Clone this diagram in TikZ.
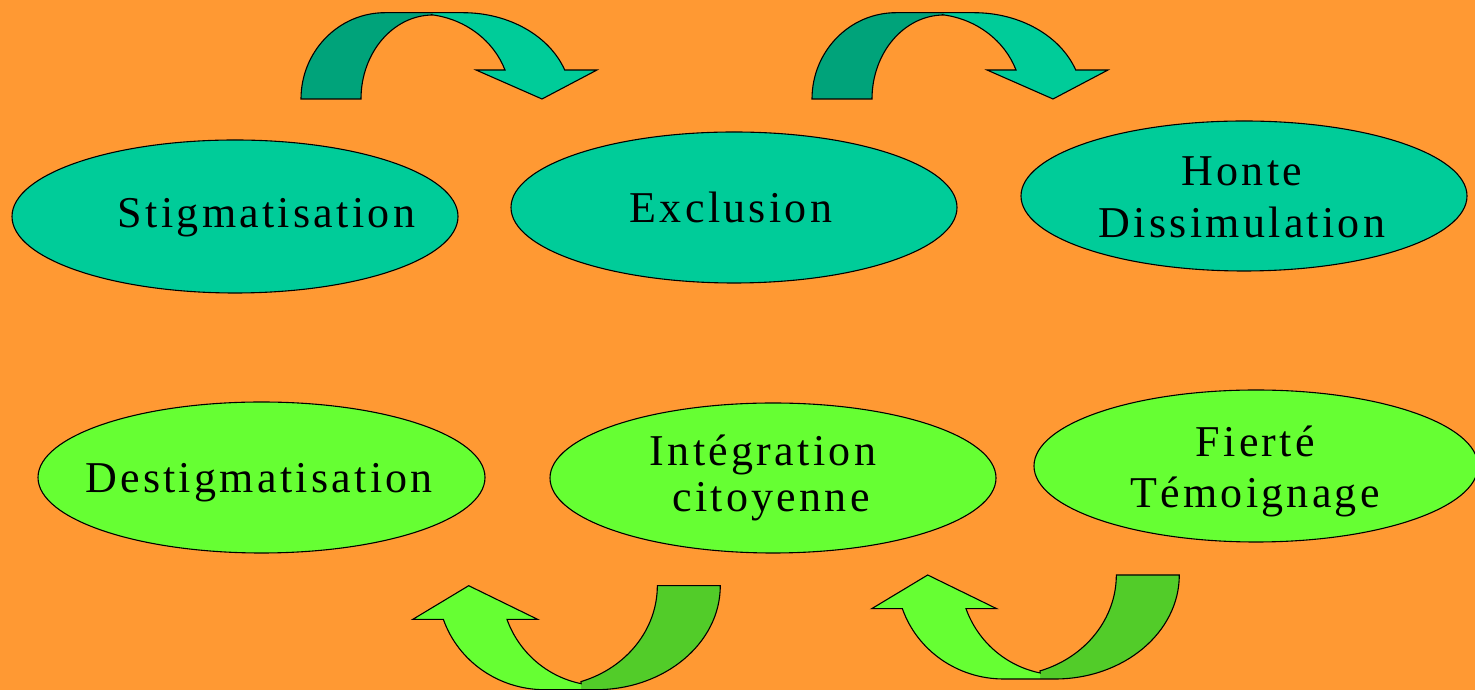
\documentclass[tikz,border=0pt]{standalone}
\usepackage{fontspec}
\setmainfont{Liberation Serif}[LetterSpace=7.5]
\usetikzlibrary{shapes.geometric}
\definecolor{bgor}{HTML}{FF9933}
\definecolor{teal1}{HTML}{00CC99}
\definecolor{teal2}{HTML}{00A37A}
\definecolor{green1}{HTML}{66FF33}
\definecolor{green2}{HTML}{52CC29}
\begin{document}
\begin{tikzpicture}[x=1pt,y=1pt,
  ell/.style={ellipse, draw=black, line width=1.1pt, inner sep=0pt},
  topell/.style={ell, fill=teal1},
  botell/.style={ell, fill=green1},
  txt/.style={font=\fontsize{44}{51}\selectfont, inner sep=0pt, anchor=base, text=black},
  band/.style={draw=black, line width=1.1pt, line join=miter}]
\useasboundingbox (0,0) rectangle (1475,690);
\fill[bgor] (0,0) rectangle (1475,690);

% top ellipses
\node[topell, minimum width=446, minimum height=153] (stig) at (235,473.5) {};
\node[topell, minimum width=446, minimum height=151] (excl) at (734,482.5) {};
\node[topell, minimum width=446, minimum height=150] (honte) at (1244,494) {};
% bottom ellipses
\node[botell, minimum width=447, minimum height=151] (destig) at (261.5,212.5) {};
\node[botell, minimum width=446, minimum height=150] (integ) at (773,212) {};
\node[botell, minimum width=444, minimum height=152] (fierte) at (1256,224) {};

% texts
\node[txt] (stigT) at (266.5,462) {Stigmatisation};
\node[txt] (exclT) at (731,467.3) {Exclusion};
\node[txt] (honteT) at (1242,504) {Honte};
\node[txt] (dissT) at (1242,452.7) {Dissimulation};
\node[txt] (destigT) at (259,197.3) {Destigmatisation};
\node[txt] (integT) at (763,224) {Intégration};
\node[txt] (citoT) at (771,178.3) {citoyenne};
\node[txt] (fierteT) at (1255.3,233.3) {Fierté};
\node[txt] (temoT) at (1255,182.7) {Témoignage};

% top curved arrows
\foreach \dx in {0,511}{
\begin{scope}[xshift=\dx]
\fill[teal2] (301,591) arc[start angle=180,end angle=90,x radius=84,y radius=86.3]
  -- (433,677.3) -- (433,675) arc[start angle=90,end angle=180,x radius=72,y radius=84] -- cycle;
\fill[teal1] (433,675) -- (433,677.3) -- (463,677.3)
  arc[start angle=90,end angle=19.6,x radius=108,y radius=86.3]
  -- (597,620) -- (542,591) -- (476,620) -- (505,620)
  arc[start angle=19.95,end angle=81.5,x radius=91,y radius=85] -- cycle;
\draw[band] (301,591) arc[start angle=180,end angle=90,x radius=84,y radius=86.3]
  -- (463,677.3) arc[start angle=90,end angle=19.6,x radius=108,y radius=86.3]
  -- (597,620) -- (542,591) -- (476,620) -- (505,620)
  arc[start angle=19.95,end angle=81.5,x radius=91,y radius=85]
  -- (433,675) arc[start angle=90,end angle=180,x radius=72,y radius=84] -- cycle;
\end{scope}}

% bottom curved arrows
\foreach \dx/\dy in {0/0,-459/-10.7}{
\begin{scope}[xshift=\dx, yshift=\dy]
\fill[green2] (1179.3,115) arc[start angle=0,end angle=-90,x radius=124.3,y radius=104]
  -- (1040,11) -- (1040,19.1) arc[start angle=-71.8,end angle=0,x radius=111,y radius=101] -- cycle;
\fill[green1] (1040,19.1) -- (1040,11) -- (1003.6,11)
  arc[start angle=270,end angle=198.9,x radius=107,y radius=104]
  -- (871.7,81.3) -- (927.7,115) -- (996.7,81.3) -- (966,81.3)
  arc[start angle=199.7,end angle=258.5,x radius=100,y radius=100] -- cycle;
\draw[band] (1179.3,115) arc[start angle=0,end angle=-90,x radius=124.3,y radius=104]
  -- (1003.6,11) arc[start angle=270,end angle=198.9,x radius=107,y radius=104]
  -- (871.7,81.3) -- (927.7,115) -- (996.7,81.3) -- (966,81.3)
  arc[start angle=199.7,end angle=258.5,x radius=100,y radius=100]
  -- (1040,19.1) arc[start angle=-71.8,end angle=0,x radius=111,y radius=101] -- cycle;
\end{scope}}
\end{tikzpicture}
\end{document}
